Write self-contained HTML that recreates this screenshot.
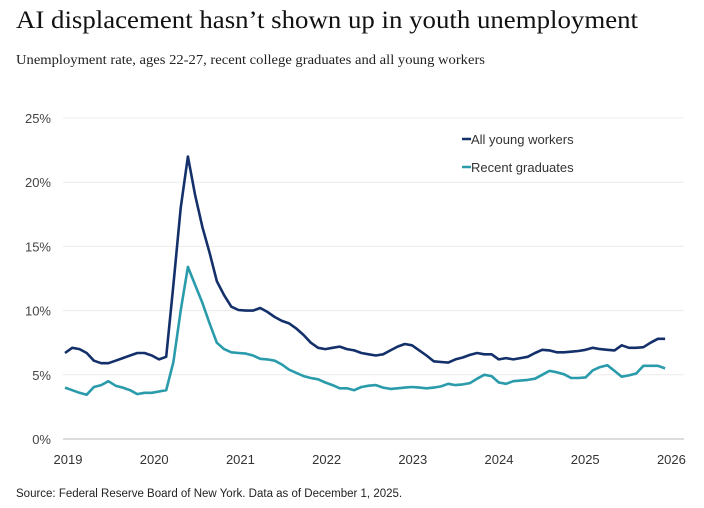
<!DOCTYPE html>
<html><head><meta charset="utf-8"><style>
body{margin:0;background:#fff;}
svg{display:block;}
</style></head><body>
<svg width="704" height="508" viewBox="0 0 704 508" xmlns="http://www.w3.org/2000/svg">
<text x="16" y="28" font-family="Liberation Serif, serif" font-size="25" fill="#111" textLength="622" lengthAdjust="spacingAndGlyphs">AI displacement hasn’t shown up in youth unemployment</text>
<text x="16" y="64" font-family="Liberation Serif, serif" font-size="14" fill="#222" textLength="469" lengthAdjust="spacingAndGlyphs">Unemployment rate, ages 22-27, recent college graduates and all young workers</text>
<g id="grid"></g>
<g id="yt"></g>
<g id="xt"></g>
<g id="lines"></g>
<g>
<line x1="462" y1="139" x2="471" y2="139" stroke="#14306b" stroke-width="2.5"/>
<text x="471" y="144" font-family="Liberation Sans, sans-serif" font-size="13" fill="#333">All young workers</text>
<line x1="462" y1="167" x2="471" y2="167" stroke="#2a9bab" stroke-width="2.5"/>
<text x="471" y="172" font-family="Liberation Sans, sans-serif" font-size="13" fill="#333">Recent graduates</text>
</g>
<text x="16" y="497" font-family="Liberation Sans, sans-serif" font-size="11.5" fill="#222">Source: Federal Reserve Board of New York. Data as of December 1,  2025.</text>
</svg>
<script>
const yTicks=[0,5,10,15,20,25];
const yTickLabels=["0%","5%","10%","15%","20%","25%"];
const xYears=[2019,2020,2021,2022,2023,2024,2025,2026];
const allYoung=[6.7,7.1,7.0,6.7,6.1,5.9,5.9,6.1,6.3,6.5,6.7,6.7,6.5,6.2,6.4,12,18,22,19,16.5,14.5,12.3,11.2,10.3,10.05,10.0,10.0,10.2,9.9,9.5,9.2,9.0,8.6,8.1,7.5,7.1,7.0,7.1,7.2,7.0,6.9,6.7,6.6,6.5,6.6,6.9,7.2,7.4,7.3,6.9,6.5,6.05,6.0,5.95,6.2,6.35,6.55,6.7,6.6,6.6,6.2,6.3,6.2,6.3,6.4,6.7,6.95,6.9,6.75,6.75,6.8,6.85,6.95,7.1,7.0,6.95,6.9,7.3,7.1,7.1,7.15,7.5,7.8,7.8];
const recentGrads=[4.0,3.8,3.6,3.45,4.05,4.2,4.5,4.15,4.0,3.8,3.5,3.6,3.6,3.7,3.8,6.0,10,13.4,12.0,10.6,9.0,7.5,7.0,6.75,6.7,6.65,6.5,6.25,6.2,6.1,5.8,5.4,5.15,4.9,4.75,4.65,4.4,4.2,3.95,3.95,3.8,4.05,4.15,4.2,4.0,3.9,3.95,4.0,4.05,4.0,3.95,4.0,4.1,4.3,4.2,4.25,4.35,4.7,5.0,4.9,4.4,4.3,4.5,4.55,4.6,4.7,5.0,5.3,5.2,5.05,4.75,4.75,4.8,5.35,5.6,5.75,5.3,4.85,4.95,5.1,5.7,5.7,5.7,5.5];
const NS="http://www.w3.org/2000/svg";
const y=v=>439-v*12.84;
const x=m=>65+m*7.23;  // months since Jan 2019
const xYear=yr=>68+(yr-2019)*86.2;
function mk(tag,attrs,parent){const e=document.createElementNS(NS,tag);for(const k in attrs)e.setAttribute(k,attrs[k]);parent.appendChild(e);return e;}
const grid=document.getElementById('grid'),yt=document.getElementById('yt'),xt=document.getElementById('xt'),lines=document.getElementById('lines');
yTicks.forEach((t,i)=>{
  const l=mk('line',{x1:63,x2:684,y1:y(t),y2:y(t),stroke:t===0?'#bbb':'#ececec','stroke-width':1},grid);
  
  
  const tx=mk('text',{x:51,y:y(t)+5,'text-anchor':'end','font-family':'Liberation Sans, sans-serif','font-size':13,fill:'#444'},yt);
  tx.textContent=yTickLabels[i];
  
  
});
xYears.forEach(yr=>{
  const tx=mk('text',{x:xYear(yr),y:464,'text-anchor':'middle','font-family':'Liberation Sans, sans-serif','font-size':13,fill:'#333'},xt);
  tx.textContent=yr;
  
  
});
function drawLine(data,color,name){
  const d=data.map((v,i)=>(i?'L':'M')+x(i).toFixed(1)+','+y(v).toFixed(1)).join('');
  const p=mk('path',{d:d,fill:'none',stroke:color,'stroke-width':2.6,'stroke-linejoin':'round'},lines);
  
  
}
drawLine(recentGrads,'#2a9bab','recent-graduates-line');
drawLine(allYoung,'#14306b','all-young-workers-line');
</script>
</body></html>
